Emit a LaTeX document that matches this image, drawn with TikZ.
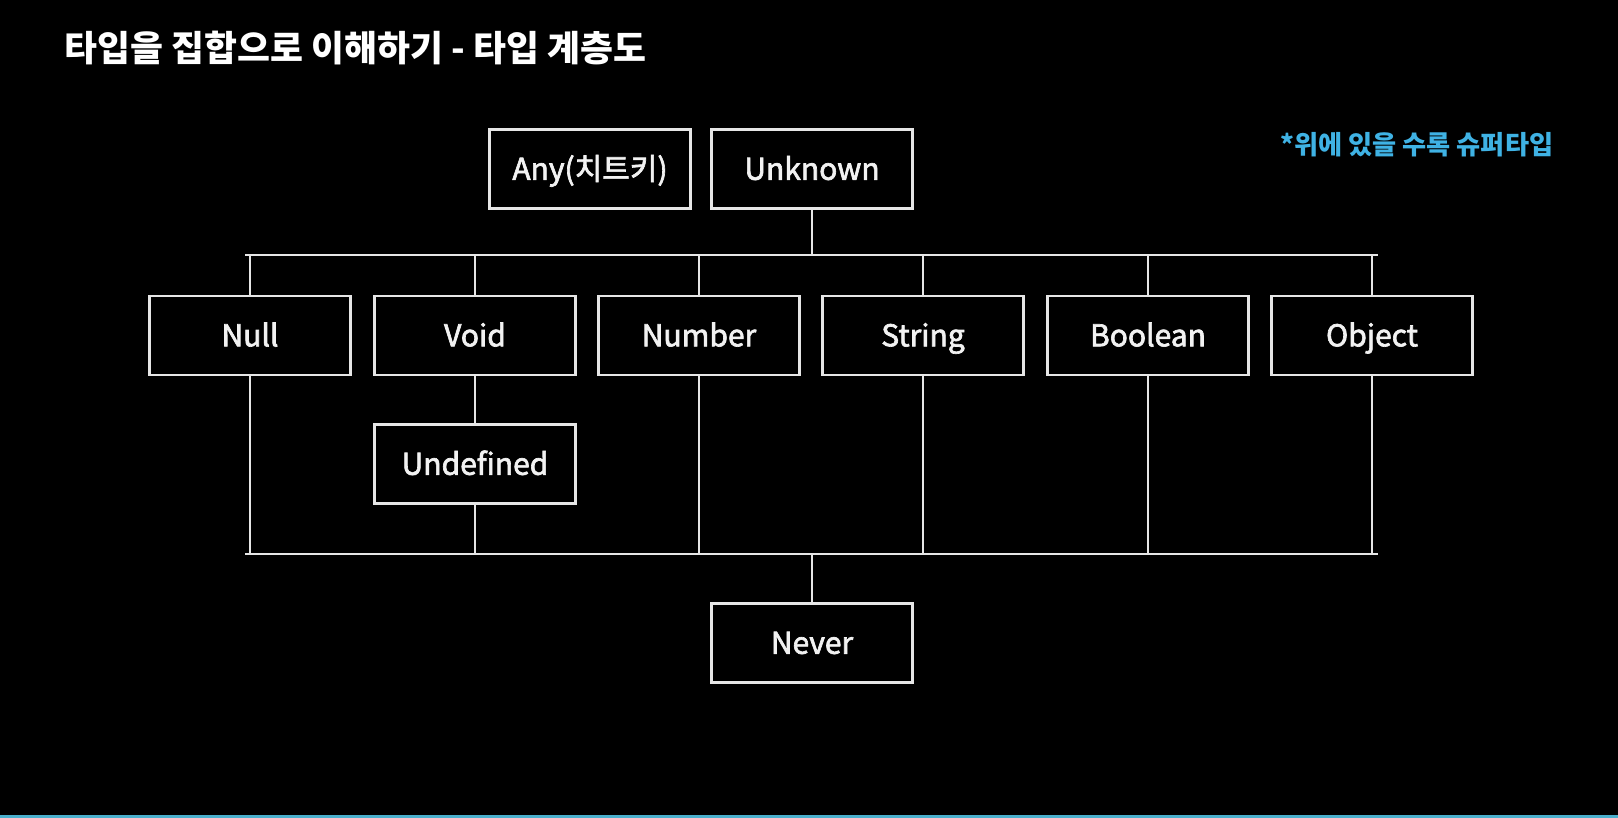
\documentclass[tikz,border=0pt]{standalone}
\usepackage{fontspec}
\setmainfont{Noto Sans CJK KR}
\newfontfamily\boxfont{Noto Sans CJK KR}[FakeBold=2.2]
\definecolor{linec}{HTML}{E6E6E6}
\definecolor{txt}{HTML}{F2F2F2}
\definecolor{note}{HTML}{3FB2E4}
\definecolor{strip}{HTML}{4AAFCC}
\tikzset{
  box/.style={draw=linec, line width=1.4pt, fill=black, text=txt,
    minimum width=100.5pt, minimum height=39.5pt, inner sep=0pt,
    text height=10.8pt, text depth=0pt,
    font=\boxfont\fontsize{15}{18}\selectfont},
  conn/.style={draw=linec, line width=1.4pt}
}
\begin{document}
\begin{tikzpicture}[x=0.5pt,y=-0.5pt]
\fill[black] (0,0) rectangle (1618,818);
\useasboundingbox (0,0) rectangle (1618,818);
\fill[strip] (0,815) rectangle (1618,818);

\node[anchor=west, inner sep=0pt, text=white, font=\bfseries\fontsize{17.9}{21}\selectfont] (title) at (64,48) {타입을 집합으로 이해하기 - 타입 계층도};
\node[anchor=west, inner sep=0pt, text=note, font=\bfseries\fontsize{13.1}{15}\selectfont] (note) at (1280,145) {*위에 있을 수록 슈퍼타입};

\node[box] (any) at (590,169) {Any(치트키)};
\node[box] (unk) at (812,169) {Unknown};

\node[box] (null) at (250,335.5) {Null};
\node[box] (void) at (475,335.5) {Void};
\node[box] (num) at (699,335.5) {Number};
\node[box] (str) at (923,335.5) {String};
\node[box] (bool) at (1148,335.5) {Boolean};
\node[box] (obj) at (1372,335.5) {Object};
\node[box] (undef) at (475,464) {Undefined};
\node[box] (never) at (812,643) {Never};

\coordinate (tl) at (245,255);
\coordinate (tr) at (1378,255);
\coordinate (bl) at (245,554);
\coordinate (br) at (1378,554);

\draw[conn] (tl) -- (tr);
\draw[conn] (bl) -- (br);
\draw[conn] (unk.south) -- (unk.south |- tl);
\foreach \n in {null,void,num,str,bool,obj}{
  \draw[conn] (\n.north) -- (\n.north |- tl);
}
\foreach \n in {null,num,str,bool,obj}{
  \draw[conn] (\n.south) -- (\n.south |- bl);
}
\draw[conn] (void.south) -- (undef.north);
\draw[conn] (undef.south) -- (undef.south |- bl);
\draw[conn] (never.north) -- (never.north |- bl);
\end{tikzpicture}
\end{document}
